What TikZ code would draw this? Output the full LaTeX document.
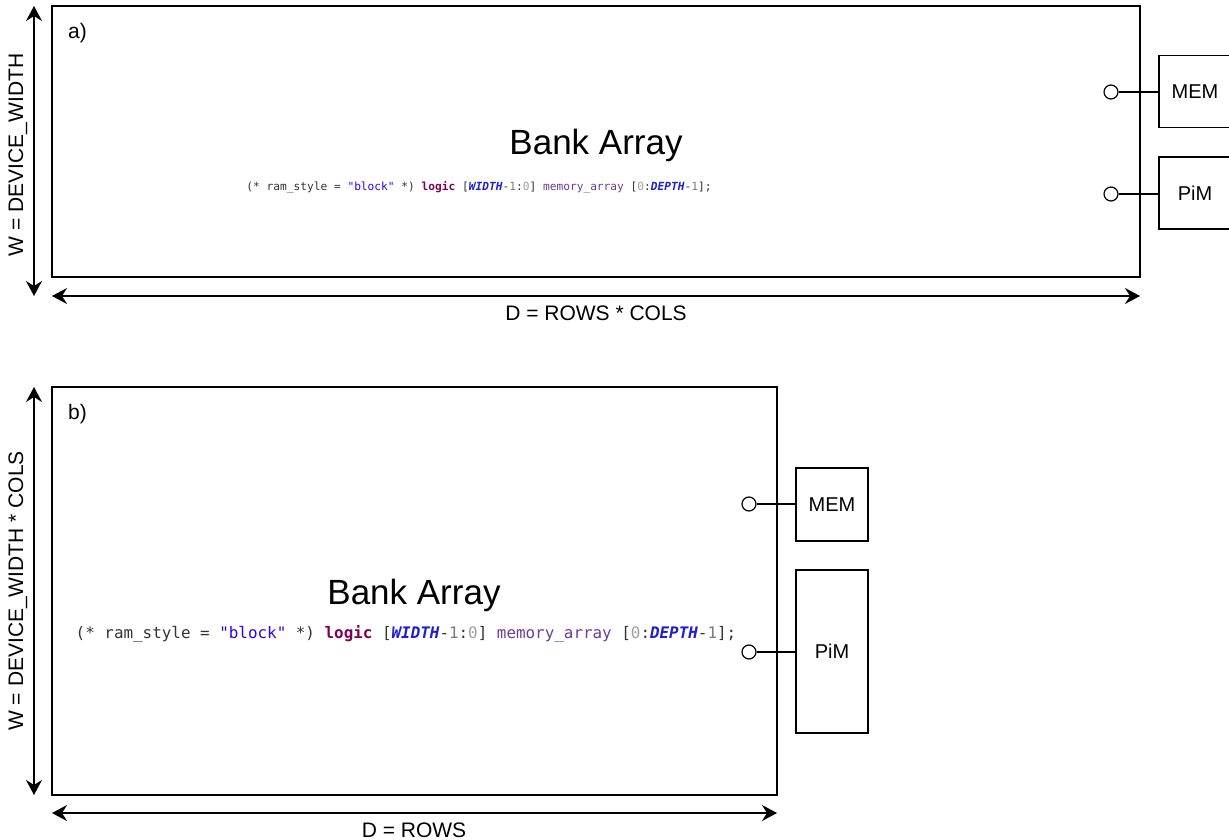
\documentclass[tikz,border=0pt]{standalone}
\usepackage{fontspec}
\setmainfont{Liberation Sans}
\newfontfamily\codefont{DejaVu Sans Mono}
\usetikzlibrary{arrows.meta,calc}

\definecolor{cpunct}{HTML}{333333}
\definecolor{cstring}{HTML}{2A00FF}
\definecolor{ckey}{HTML}{7F0055}
\definecolor{cparam}{HTML}{1F1FCF}
\definecolor{cnum}{HTML}{7A7A7A}
\definecolor{czero}{HTML}{A0A0A0}
\definecolor{cident}{HTML}{6A3D9A}

% SystemVerilog declaration of the bank memory, syntax coloured
\newcommand{\bankdecl}{%
\textcolor{cpunct}{(*\ ram\_style\ =\ }\textcolor{cstring}{"block"}\textcolor{cpunct}{\ *)\ }%
\textcolor{ckey}{\bfseries logic}\textcolor{cpunct}{\ [}\textcolor{cparam}{\bfseries\itshape WIDTH}%
\textcolor{cpunct}{-}\textcolor{cnum}{1}\textcolor{cpunct}{:}\textcolor{czero}{0}\textcolor{cpunct}{]\ }%
\textcolor{cident}{memory\_array}\textcolor{cpunct}{\ [}\textcolor{czero}{0}\textcolor{cpunct}{:}%
\textcolor{cparam}{\bfseries\itshape DEPTH}\textcolor{cpunct}{-}\textcolor{cnum}{1}\textcolor{cpunct}{];}}

\tikzset{
  bank/.style={draw, line width=1.5pt, inner sep=0pt, rectangle},
  port/.style={draw, line width=1.3pt, inner sep=0pt, rectangle, minimum width=72pt,
               font=\fontsize{20}{24}\selectfont},
  pin/.style={draw, circle, line width=1.2pt, fill=white, inner sep=0pt, minimum size=14pt},
  wire/.style={line width=1.3pt},
  dim/.style={line width=1.6pt, {Stealth[length=15pt,width=16pt,inset=5pt]}-{Stealth[length=15pt,width=16pt,inset=5pt]}},
  lbl/.style={inner sep=0pt, font=\fontsize{21}{25}\selectfont},
  title/.style={inner sep=0pt, font=\fontsize{35}{40}\selectfont},
  code/.style={inner sep=0pt, font=\codefont}
}

\begin{document}
\begin{tikzpicture}[x=1pt,y=-1pt]
\useasboundingbox[fill=white] (0,0) rectangle (1229,840);

% ---------------- a) ----------------
\node[bank, minimum width=1088pt, minimum height=271pt] (bankA) at (596,141.5) {};
\node[lbl, anchor=west] (tagA) at (68,33) {a)};
\node[title] (titleA) at (596,145) {Bank Array};
\node[code, font=\codefont\fontsize{11.2}{13}\selectfont] (codeA) at (479,187) {\bankdecl};

\node[port, minimum height=72pt] (memA) at (1195,91.5) {MEM};
\node[port, minimum height=72pt] (pimA) at (1195,193) {PiM};
\node[pin] (pinMemA) at (1111,92) {};
\node[pin] (pinPimA) at (1111,194) {};
\draw[wire] (pinMemA.east) -- (pinMemA.east -| memA.west);
\draw[wire] (pinPimA.east) -- (pinPimA.east -| pimA.west);

\coordinate (wAtop) at (34,6);
\coordinate (wAbot) at (34,296);
\draw[dim] (wAtop) -- (wAbot);
\node[lbl, rotate=90] (wA) at (18,155) {W = DEVICE\_WIDTH};

\coordinate (dAl) at (52,296);
\coordinate (dAr) at (1140,296);
\draw[dim] (dAl) -- (dAr);
\node[lbl] (dA) at (596,313) {D = ROWS * COLS};

% ---------------- b) ----------------
\node[bank, minimum width=725pt, minimum height=408pt] (bankB) at (414.5,591) {};
\node[lbl, anchor=west] (tagB) at (68,414) {b)};
\node[title] (titleB) at (414,595) {Bank Array};
\node[code, font=\codefont\fontsize{15.9}{18}\selectfont] (codeB) at (406,634) {\bankdecl};

\node[port, minimum height=73pt] (memB) at (832,504.5) {MEM};
\node[port, minimum height=163pt] (pimB) at (832,651.5) {PiM};
\node[pin] (pinMemB) at (749,504) {};
\node[pin] (pinPimB) at (749,652) {};
\draw[wire] (pinMemB.east) -- (pinMemB.east -| memB.west);
\draw[wire] (pinPimB.east) -- (pinPimB.east -| pimB.west);

\coordinate (wBtop) at (34,387);
\coordinate (wBbot) at (34,795);
\draw[dim] (wBtop) -- (wBbot);
\node[lbl, rotate=90] (wB) at (18,591) {W = DEVICE\_WIDTH * COLS};

\coordinate (dBl) at (52,813);
\coordinate (dBr) at (777,813);
\draw[dim] (dBl) -- (dBr);
\node[lbl] (dB) at (414,830) {D = ROWS};
\end{tikzpicture}
\end{document}
